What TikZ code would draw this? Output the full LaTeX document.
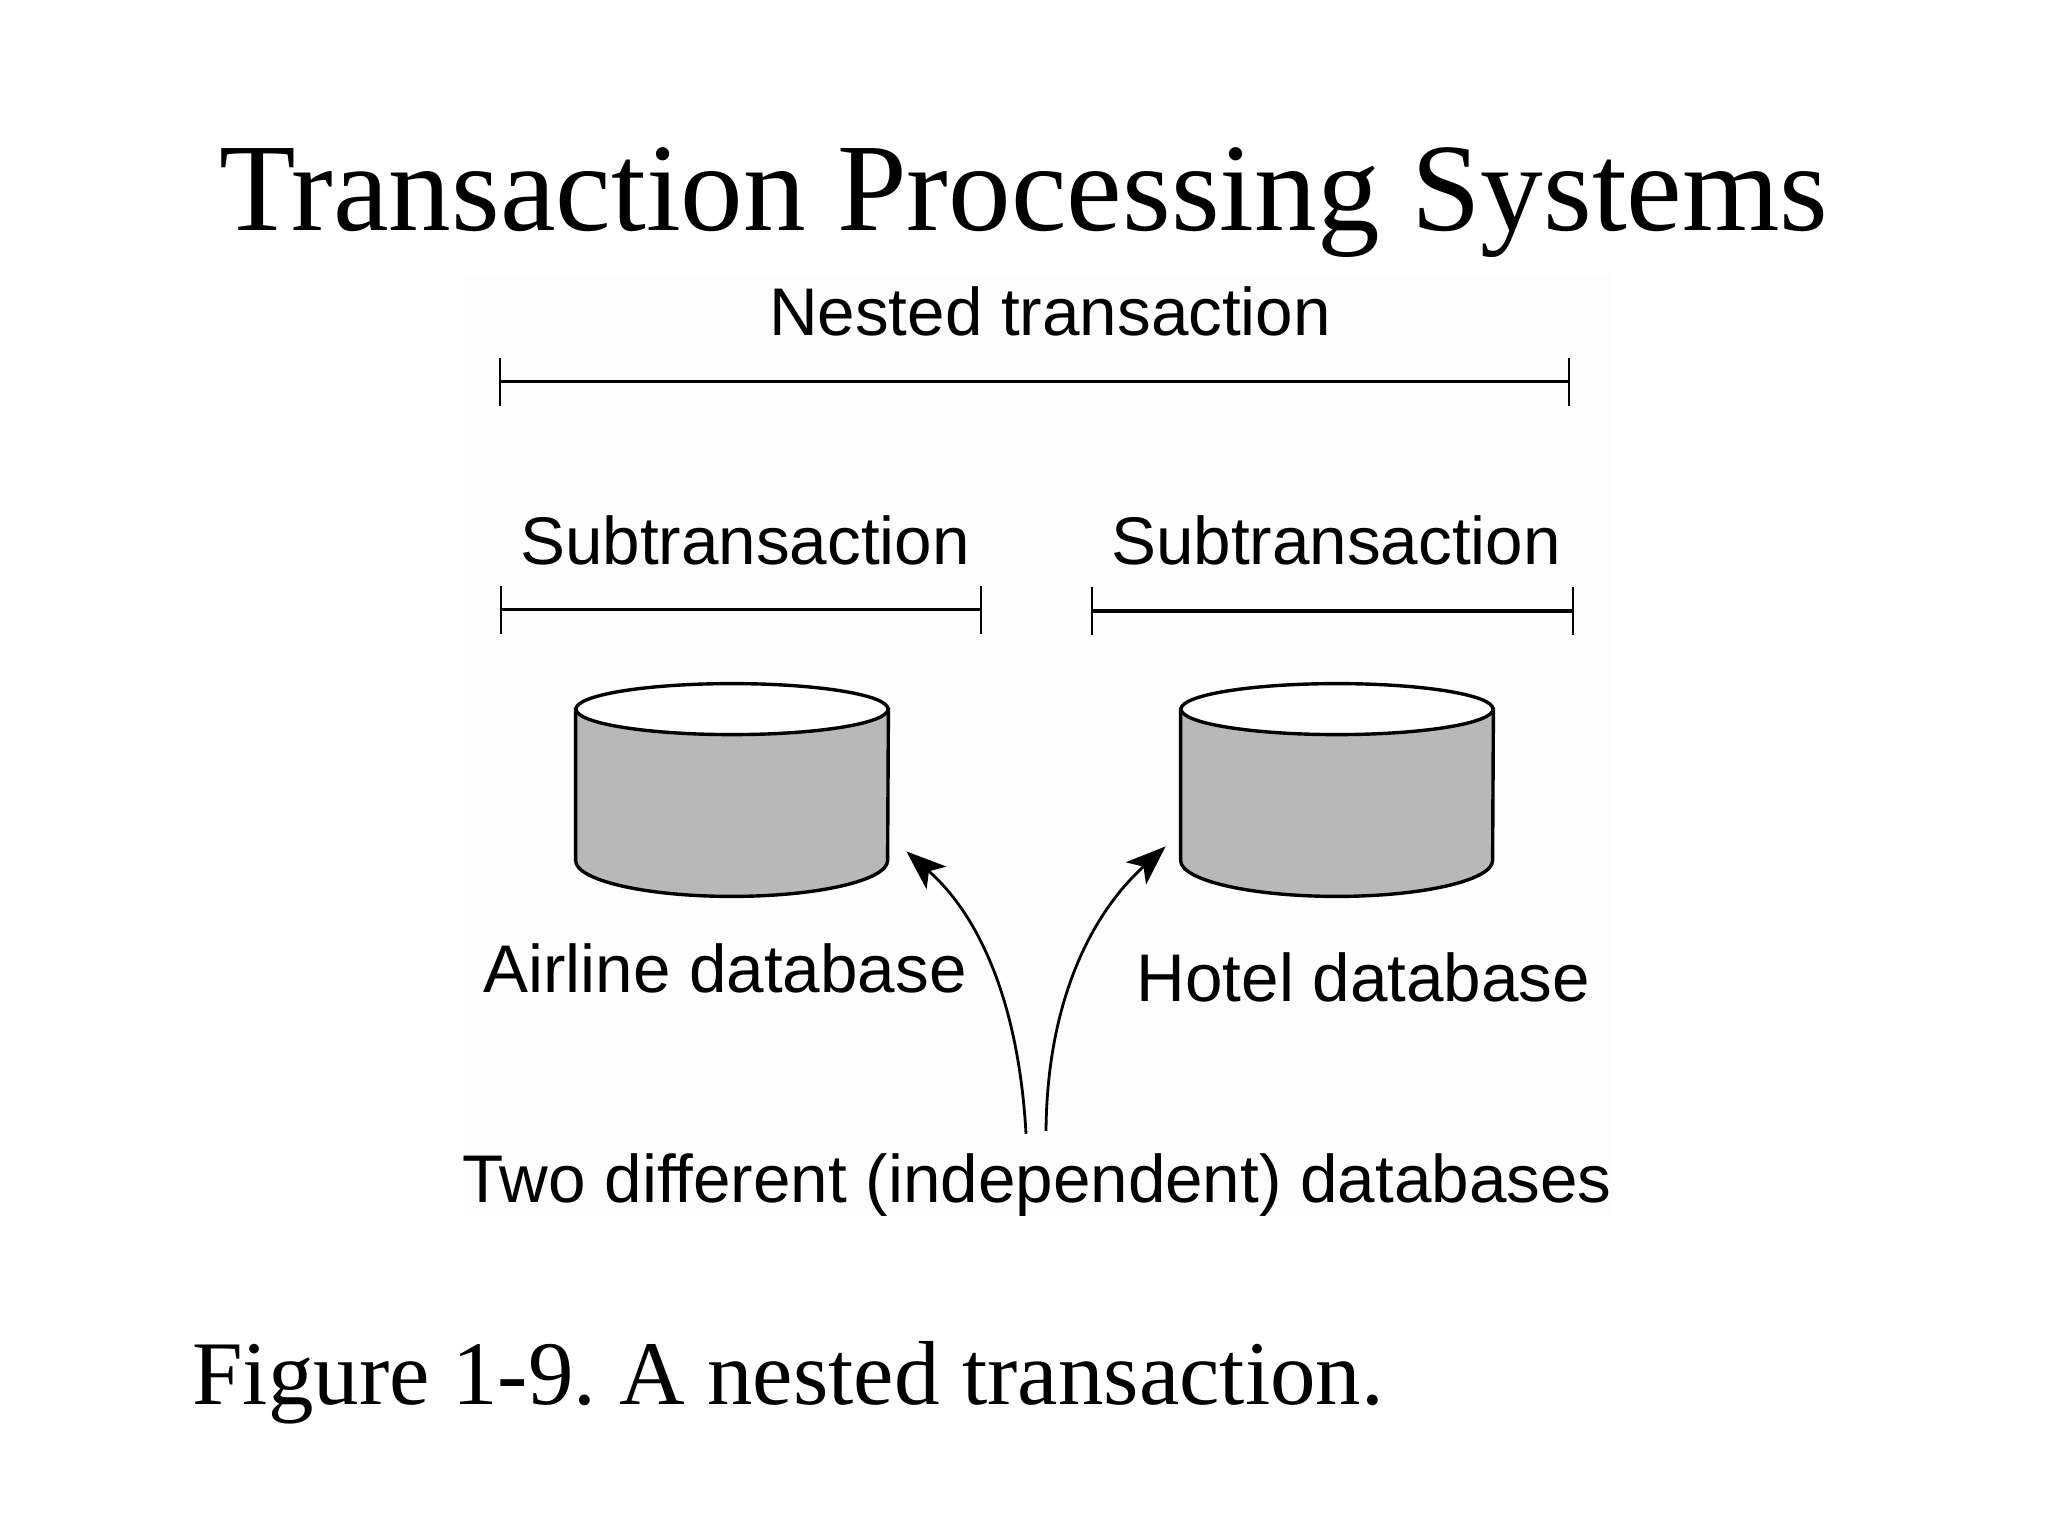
\documentclass[tikz,border=0pt]{standalone}
\usepackage{fontspec}
\setmainfont{Liberation Serif}
\newfontfamily\figfont{Liberation Sans}
\usetikzlibrary{arrows.meta,positioning}
\frenchspacing

\begin{document}
\begin{tikzpicture}[
    x=0.5pt, y=-0.5pt,
    title/.style={anchor=base, inner sep=0pt, font=\fontsize{62.6}{70}\selectfont},
    caption/.style={anchor=base west, inner sep=0pt, font=\fontsize{45.45}{52}\selectfont},
    label/.style={anchor=base, inner sep=0pt, font=\figfont\fontsize{33.7}{38}\selectfont},
    panel/.style={fill=black!0.8, minimum width=574.5pt, minimum height=470.5pt, inner sep=0pt},
    db/.style={minimum width=156pt, minimum height=106pt, inner sep=0pt},
    dbbody/.style={draw, line width=1.7pt, fill=black!28},
    dbtop/.style={draw, line width=1.7pt, fill=white},
    span/.style={line width=1.9pt, {Bar[width=24pt,line width=1.1pt]}-{Bar[width=24pt,line width=1.1pt]}},
    arr/.style={-{Stealth[length=20pt,width=15pt,inset=5pt]}, line width=1.4pt}
]
\useasboundingbox (0,0) rectangle (2048,1536);
\node[panel] (panel) at (1038.5,744.5) {};
\node[title] (heading) at (1024,230) {Transaction Processing Systems};
\node[caption] (figcap) at (192,1404) {Figure 1-9. A nested transaction.};

% transaction spans
\node[label] (nested) at (1050,335) {Nested transaction};
\node[label] (subleft) at (745,564) {Subtransaction};
\node[label] (subright) at (1336,564) {Subtransaction};
\coordinate (nestedA) at (499,381.5);
\coordinate (nestedB) at (1570,381.5);
\coordinate (subleftA) at (500,609.5);
\coordinate (subleftB) at (982,609.5);
\coordinate (subrightA) at (1091,611);
\coordinate (subrightB) at (1574,611);
\draw[span] (nestedA) -- (nestedB);
\draw[span] (subleftA) -- (subleftB);
\draw[span] (subrightA) -- (subrightB);

% databases
\node[db] (airline) at (732,790) {};
\node[db] (hotel) at (1337,790) {};
\foreach \name in {airline,hotel} {
    \draw[dbbody] ([yshift=-12.75pt]\name.north west) -- ([yshift=18pt]\name.south west)
        arc[start angle=180, end angle=360, x radius=78pt, y radius=18pt]
        -- ([yshift=-12.75pt]\name.north east) -- cycle;
    \draw[dbtop] ([yshift=-12.75pt]\name.north) ellipse [x radius=78pt, y radius=12.75pt];
}
\node[label] (airlinetxt) at (725,992) {Airline database};
\node[label] (hoteltxt) at (1363.5,1001) {Hotel database};
\node[label] (twodbs) at (1037,1202.5) {Two different (independent) databases};

\draw[arr] ([xshift=-5.5pt,yshift=9.75pt]twodbs.north) .. controls (1019,1008) and (982,918) .. ([xshift=9pt,yshift=22.5pt]airline.south east);
\draw[arr] ([xshift=4.5pt,yshift=11.25pt]twodbs.north) .. controls (1047,1008) and (1087,918) .. ([xshift=-7.5pt,yshift=25pt]hotel.south west);
\end{tikzpicture}
\end{document}
